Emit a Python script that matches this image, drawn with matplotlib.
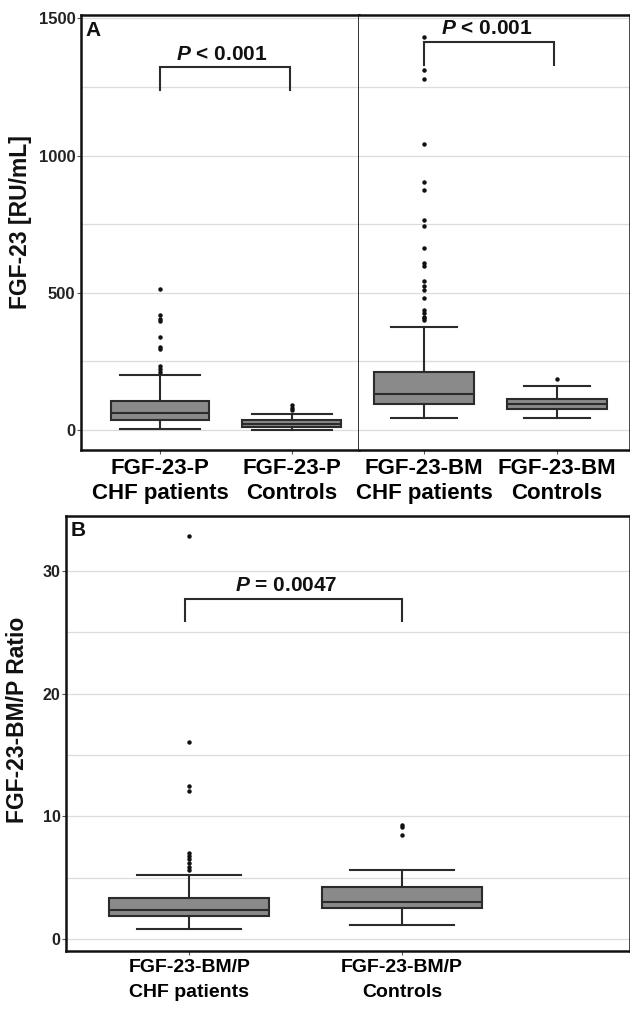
import matplotlib
matplotlib.use("Agg")
import matplotlib.pyplot as plt
from matplotlib.ticker import MultipleLocator

plt.rcParams['font.family'] = ['Liberation Sans', 'DejaVu Sans']
plt.rcParams['mathtext.fontset'] = 'custom'
plt.rcParams['mathtext.it'] = 'Liberation Sans:italic:bold'
plt.rcParams['mathtext.rm'] = 'Liberation Sans:bold'

# ---------------- data ----------------
labels_A_left = ["FGF-23-P\nCHF patients", "FGF-23-P\nControls"]
labels_A_right = ["FGF-23-BM\nCHF patients", "FGF-23-BM\nControls"]
labels_B = ["FGF-23-BM/P\nCHF patients", "FGF-23-BM/P\nControls"]

# Panel A (RU/mL): P-CHF, P-Controls, BM-CHF, BM-Controls
A_q1 = [37, 10, 96, 75]
A_med = [61, 21, 131, 94]
A_q3 = [106, 36, 211, 113]
A_whislo = [5, 0, 44, 45]
A_whishi = [200, 58, 374, 161]
A_fliers_P_chf = [512, 418, 405, 397, 340, 301, 294, 232, 222, 212]
A_fliers_P_ctrl = [90, 81, 73]
A_fliers_BM_chf = [1433, 1313, 1278, 1042, 902, 874, 765, 743, 664,
                   607, 597, 544, 525, 510, 480, 437, 425, 413, 407, 400]
A_fliers_BM_ctrl = [185]

# Panel B (ratio)
B_q1 = [1.87, 2.55]
B_med = [2.34, 3.04]
B_q3 = [3.36, 4.26]
B_whislo = [0.81, 1.17]
B_whishi = [5.21, 5.65]
B_fliers_chf = [32.85, 16.07, 12.46, 12.05, 6.98, 6.76, 6.49, 6.17, 5.89, 5.62]
B_fliers_ctrl = [9.29, 9.1, 8.47]

p_text_A = r"$P$ < 0.001"
p_text_B = r"$P$ = 0.0047"

# ---------------- layout ----------------
W, H = 630, 1021
fig = plt.figure(figsize=(W / 100, H / 100), dpi=100)


def rect(l, t, r, b):
    return [l / W, 1 - b / H, (r - l) / W, (b - t) / H]


BOX_FC = '#8a8a8a'
EDGE = '#2b2b2b'
GRID = '#dcdcdc'
LW = 1.5


def make_stats(q1, med, q3, lo, hi, fliers):
    return [dict(q1=a, med=b, q3=c, whislo=d, whishi=e, fliers=f)
            for a, b, c, d, e, f in zip(q1, med, q3, lo, hi, fliers)]


def draw_boxes(ax, stats, width, capw):
    ax.bxp(stats, positions=[1, 2], widths=width, capwidths=capw,
           patch_artist=True, showfliers=True,
           boxprops=dict(facecolor=BOX_FC, edgecolor=EDGE, linewidth=LW),
           medianprops=dict(color=EDGE, linewidth=LW),
           whiskerprops=dict(color=EDGE, linewidth=LW),
           capprops=dict(color=EDGE, linewidth=LW),
           flierprops=dict(marker='o', markersize=2.2, markerfacecolor='#111111',
                           markeredgecolor='#111111', linestyle='none'),
           zorder=3)


def bracket(ax, x1, x2, ybot, ytop, text, ytext, xtext):
    ax.plot([x1, x1, x2, x2], [ybot, ytop, ytop, ybot], color=EDGE,
            linewidth=LW, zorder=4, solid_joinstyle='miter')
    ax.text(xtext, ytext, text, ha='center', va='center', fontsize=15,
            fontweight='bold', color='#111111', zorder=5)


def style_axis(ax, ylim, major, minor, xls, yls):
    ax.set_ylim(*ylim)
    ax.yaxis.set_major_locator(MultipleLocator(major))
    ax.yaxis.set_minor_locator(MultipleLocator(minor))
    ax.grid(True, which='both', axis='y', color=GRID, linewidth=0.9, zorder=0)
    ax.set_axisbelow(True)
    ax.tick_params(axis='x', length=3, width=0.8, color='#555555', pad=3,
                   labelsize=xls)
    ax.tick_params(axis='y', which='major', length=3, width=0.8,
                   color='#555555', pad=1, labelsize=yls, labelcolor='#222222')
    ax.tick_params(axis='y', which='minor', length=0)
    for lab in ax.get_xticklabels() + ax.get_yticklabels():
        lab.set_fontweight('bold')


# ---- Panel A left ----
axA1 = fig.add_axes(rect(81, 15, 359, 450))
statsA1 = make_stats(A_q1[:2], A_med[:2], A_q3[:2], A_whislo[:2], A_whishi[:2],
                     [A_fliers_P_chf, A_fliers_P_ctrl])
draw_boxes(axA1, statsA1, 0.75, 0.61)
axA1.set_xlim(0.4015, 2.5076)
axA1.set_xticks([1, 2])
axA1.set_xticklabels(labels_A_left, linespacing=1.2)
style_axis(axA1, (-73, 1512), 500, 250, 16, 12)
for s in ['left', 'top', 'bottom']:
    axA1.spines[s].set_linewidth(1.8)
    axA1.spines[s].set_color('#111111')
axA1.spines['right'].set_linewidth(1.3)
axA1.spines['right'].set_color('#222222')
axA1.spines['right'].set_zorder(6)
bracket(axA1, 1, 1.985, 1239, 1321, p_text_A, 1367, 1.47)

# ---- Panel A right ----
axA2 = fig.add_axes(rect(359, 15, 630, 450))
statsA2 = make_stats(A_q1[2:], A_med[2:], A_q3[2:], A_whislo[2:], A_whishi[2:],
                     [A_fliers_BM_chf, A_fliers_BM_ctrl])
draw_boxes(axA2, statsA2, 0.75, 0.49)
axA2.set_xlim(0.511, 2.549)
axA2.set_xticks([1, 2])
axA2.set_xticklabels(labels_A_right, linespacing=1.2)
style_axis(axA2, (-73, 1512), 500, 250, 16, 12)
axA2.tick_params(axis='y', which='both', left=False, labelleft=False)
axA2.spines['left'].set_visible(False)
for s in ['right', 'top', 'bottom']:
    axA2.spines[s].set_linewidth(1.8)
    axA2.spines[s].set_color('#111111')
bracket(axA2, 1, 1.98, 1330, 1414, p_text_A, 1463, 1.47)

# ---- Panel B ----
axB = fig.add_axes(rect(66, 516, 630, 951))
statsB = make_stats(B_q1, B_med, B_q3, B_whislo, B_whishi,
                    [B_fliers_chf, B_fliers_ctrl])
draw_boxes(axB, statsB, 0.752, 0.49)
axB.set_xlim(0.4203, 3.073)
axB.set_xticks([1, 2])
axB.set_xticklabels(labels_B, linespacing=1.6)
style_axis(axB, (-0.98, 34.5), 10, 5, 14, 11.5)
for s in ['left', 'top', 'bottom', 'right']:
    axB.spines[s].set_linewidth(1.8)
    axB.spines[s].set_color('#111111')
bracket(axB, 0.98, 2.0, 25.93, 27.75, p_text_B, 28.83, 1.455)

# ---- labels ----
fig.text(21 / W, 1 - 222 / H, "FGF-23 [RU/mL]", rotation=90, ha='center',
         va='center', fontsize=16.5, fontweight='bold', color='#111111')
fig.text(18 / W, 1 - 720 / H, "FGF-23-BM/P Ratio", rotation=90, ha='center',
         va='center', fontsize=16.5, fontweight='bold', color='#111111')
fig.text(85 / W, 1 - 30 / H, "A", ha='left', va='center', fontsize=15,
         fontweight='bold', color='#111111')
fig.text(71 / W, 1 - 531 / H, "B", ha='left', va='center', fontsize=15,
         fontweight='bold', color='#111111')

fig.savefig("out.png", dpi=100)
